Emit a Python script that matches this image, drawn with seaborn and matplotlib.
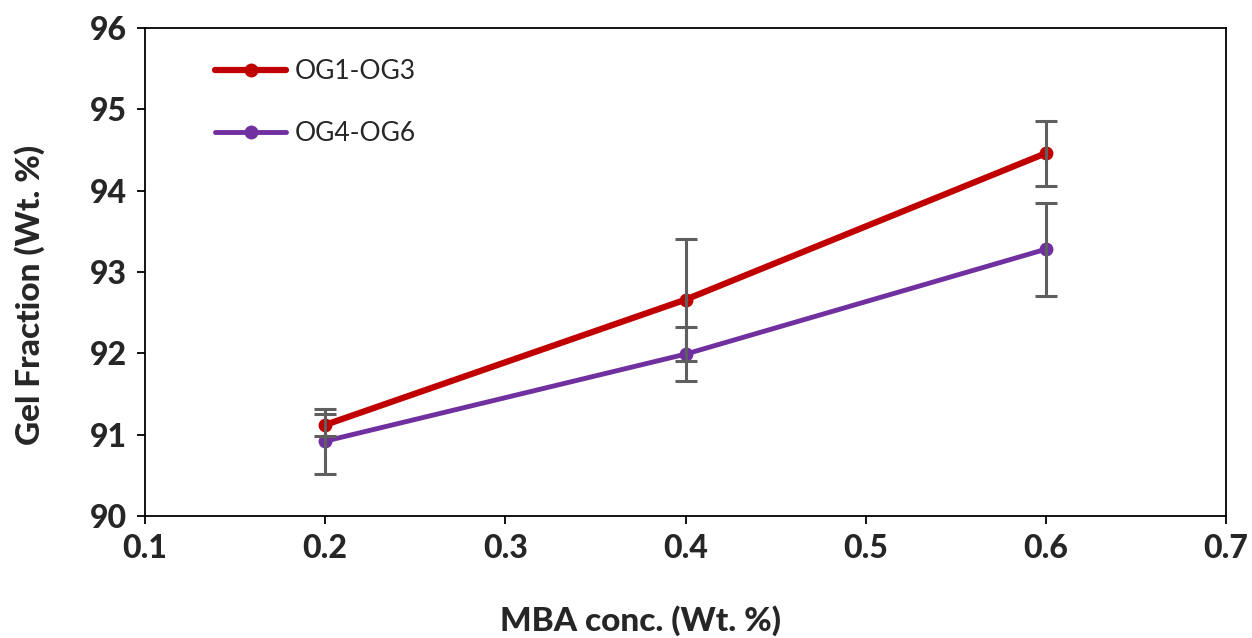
import matplotlib
matplotlib.use("Agg")
import matplotlib.pyplot as plt
import seaborn as sns
import pandas as pd
from matplotlib.lines import Line2D

mba = [0.2, 0.4, 0.6]
og13 = [91.12, 92.66, 94.46]
og13_err = [0.14, 0.75, 0.40]
og46 = [90.92, 91.99, 93.28]
og46_err = [0.40, 0.33, 0.57]
series_names = ["OG1-OG3", "OG4-OG6"]
colors = ["#C00000", "#7030A0"]

df = pd.DataFrame({
    "MBA": mba * 2,
    "GF": og13 + og46,
    "Series": [series_names[0]] * 3 + [series_names[1]] * 3,
})

sns.set_style("ticks")
plt.rcParams['font.family'] = ['Lato', 'DejaVu Sans']

fig = plt.figure(figsize=(12.52, 6.38), dpi=100)
ax = fig.add_axes([145 / 1252, 1 - 516 / 638, (1226 - 145) / 1252, (516 - 28) / 638])

sns.lineplot(data=df, x="MBA", y="GF", hue="Series", palette=colors, marker="o",
             markersize=10, markeredgewidth=0, ax=ax, legend=False, zorder=2)
ax.lines[0].set_linewidth(4.5)
ax.lines[1].set_linewidth(3.5)

ax.errorbar(mba, og13, yerr=og13_err, fmt="none", ecolor="#5F5F5F", elinewidth=2.2,
            capsize=8, capthick=2.2, zorder=3)
ax.errorbar(mba, og46, yerr=og46_err, fmt="none", ecolor="#5F5F5F", elinewidth=2.2,
            capsize=8, capthick=2.2, zorder=3)

handles = [Line2D([], [], color=colors[0], lw=4.5, marker="o", markersize=10, markeredgewidth=0),
           Line2D([], [], color=colors[1], lw=3.5, marker="o", markersize=10, markeredgewidth=0)]
ax.legend(handles, series_names, loc="upper left", bbox_to_anchor=(0.043, 0.985), frameon=False,
          fontsize=19, handlelength=2.7, handletextpad=0.3, labelspacing=1.4)

ax.set_xlim(0.1, 0.7)
ax.set_ylim(90, 96)
ax.set_xticks([0.1, 0.2, 0.3, 0.4, 0.5, 0.6, 0.7])
ax.set_xticklabels(["0.1", "0.2", "0.3", "0.4", "0.5", "0.6", "0.7"])
ax.set_yticks([90, 91, 92, 93, 94, 95, 96])
for lab in ax.get_xticklabels() + ax.get_yticklabels():
    lab.set_fontweight("black")
    lab.set_fontsize(23)
ax.tick_params(axis="both", direction="out", length=6, width=1.3, color="black", pad=7)
for s in ax.spines.values():
    s.set_visible(True)
    s.set_color("black")
    s.set_linewidth(1.3)

ax.set_xlabel("MBA conc. (Wt. %)", fontsize=24, fontweight="black", labelpad=30)
ax.xaxis.label.set_x((640 - 145) / 1081)
ax.set_ylabel("Gel Fraction (Wt. %)", fontsize=24, fontweight="black", labelpad=32)
ax.yaxis.label.set_y((516 - 295) / 488)

fig.savefig("out.png", dpi=100)
